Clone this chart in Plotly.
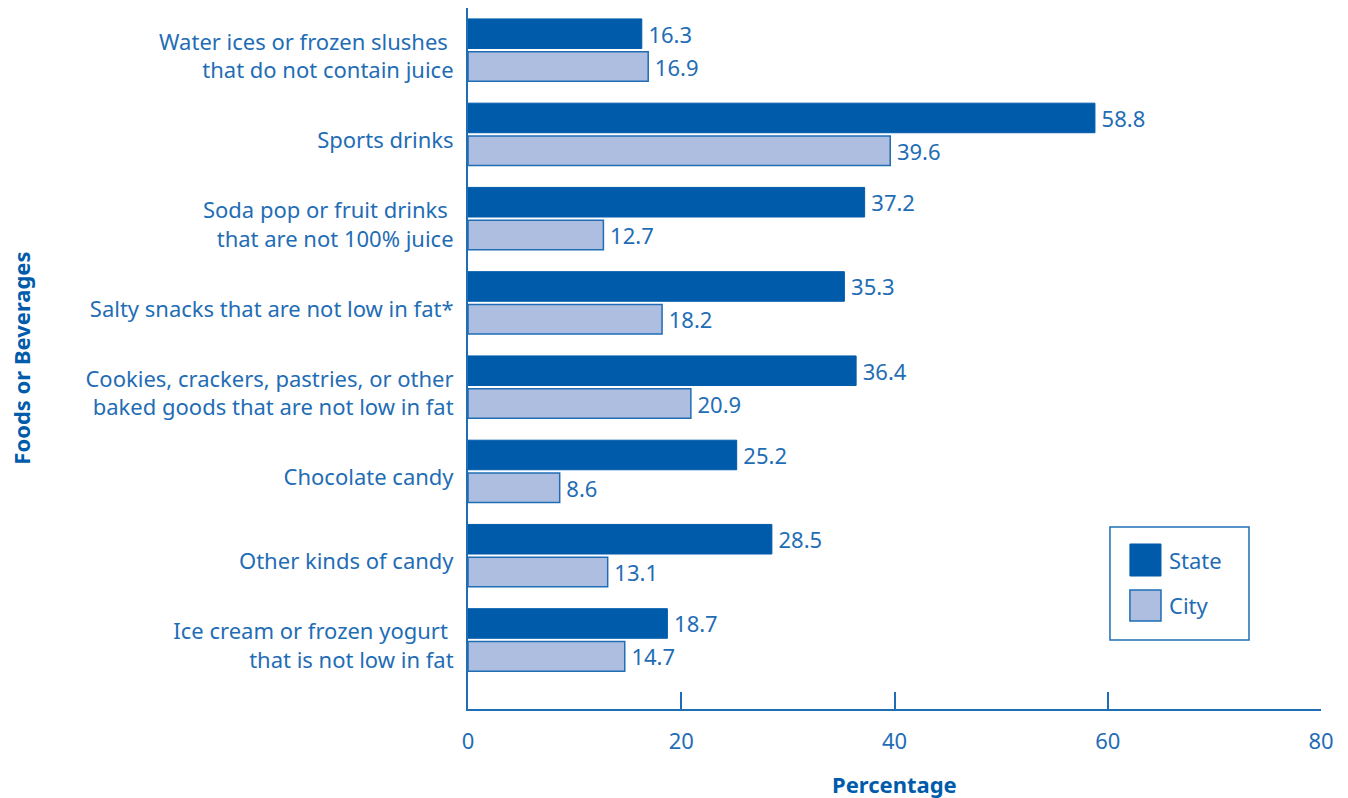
import plotly.graph_objects as go

categories = [
    "Water ices or frozen slushes\u00a0<br>that do not contain juice",
    "Sports drinks",
    "Soda pop or fruit drinks\u00a0<br>that are not 100% juice",
    "Salty snacks that are not low in fat*",
    "Cookies, crackers, pastries, or other<br>baked goods that are not low in fat",
    "Chocolate candy",
    "Other kinds of candy",
    "Ice cream or frozen yogurt\u00a0<br>that is not low in fat",
]
state = [16.3, 58.8, 37.2, 35.3, 36.4, 25.2, 28.5, 18.7]
city = [16.9, 39.6, 12.7, 18.2, 20.9, 8.6, 13.1, 14.7]
x_ticks = [0, 20, 40, 60, 80]

BLUE = "#1f6db5"
STATE_C = "#005bab"
CITY_C = "#aebee0"
FONT = "Noto Sans"
FS = 22

fig = go.Figure()
fig.add_trace(go.Bar(
    y=categories, x=state, orientation="h", name="State",
    marker=dict(color=STATE_C, line=dict(color=STATE_C, width=1)),
    text=[f"\u2009{v:.1f}" for v in state], textposition="outside",
    textfont=dict(color=BLUE, size=FS, family=FONT), cliponaxis=False,
))
fig.add_trace(go.Bar(
    y=categories, x=city, orientation="h", name="City",
    marker=dict(color=CITY_C, line=dict(color=BLUE, width=1.5)),
    text=[f"\u2009{v:.1f}" for v in city], textposition="outside",
    textfont=dict(color=BLUE, size=FS, family=FONT), cliponaxis=False,
))

fig.update_layout(
    width=1348, height=798,
    margin=dict(l=468, r=27, t=8, b=89),
    paper_bgcolor="white", plot_bgcolor="white",
    barmode="group", bargap=0.22, bargroupgap=0.1,
    showlegend=False,
    font=dict(family=FONT, color=BLUE, size=FS),
    uniformtext=dict(minsize=FS, mode="show"),
    xaxis=dict(
        range=[0, 80], tickvals=x_ticks, ticks="inside", ticklen=17,
        tickwidth=2, tickcolor=BLUE, showline=True, linewidth=2,
        linecolor=BLUE, showgrid=False, zeroline=False,
        tickfont=dict(size=FS, color=BLUE, family=FONT),
        ticklabelstandoff=12,
    ),
    yaxis=dict(
        range=[7.82, -0.5], showline=True, linewidth=2, linecolor=BLUE,
        showgrid=False, zeroline=False, ticks="",
        tickfont=dict(size=FS, color=BLUE, family=FONT),
        ticklabelstandoff=8, ticklabelshift=-6,
    ),
)

fig.add_annotation(text="<b>Percentage</b>", xref="paper", yref="paper",
                   x=0.5, y=-0.107, yanchor="middle", showarrow=False,
                   font=dict(size=22, color=STATE_C, family=FONT))
fig.add_annotation(text="<b>Foods or Beverages</b>", xref="paper", yref="paper",
                   x=-0.525, y=0.5, textangle=-90, showarrow=False,
                   xanchor="center", yanchor="middle",
                   font=dict(size=22, color=STATE_C, family=FONT))

# legend box
fig.add_shape(type="rect", xref="paper", yref="paper",
              x0=0.7526, x1=0.9156, y0=0.0984, y1=0.2596,
              line=dict(color=BLUE, width=1.5), fillcolor="white")
fig.add_shape(type="rect", xref="paper", yref="paper",
              x0=0.776, x1=0.8124, y0=0.1897, y1=0.2354,
              line=dict(color=STATE_C, width=1), fillcolor=STATE_C)
fig.add_shape(type="rect", xref="paper", yref="paper",
              x0=0.776, x1=0.8124, y0=0.1255, y1=0.1698,
              line=dict(color=BLUE, width=1.5), fillcolor=CITY_C)
fig.add_annotation(text="State", xref="paper", yref="paper", x=0.8195, y=0.2126,
                   xanchor="left", yanchor="middle", showarrow=False,
                   font=dict(size=FS, color=BLUE, family=FONT))
fig.add_annotation(text="City", xref="paper", yref="paper", x=0.8195, y=0.1484,
                   xanchor="left", yanchor="middle", showarrow=False,
                   font=dict(size=FS, color=BLUE, family=FONT))

fig.write_html("out.html")
